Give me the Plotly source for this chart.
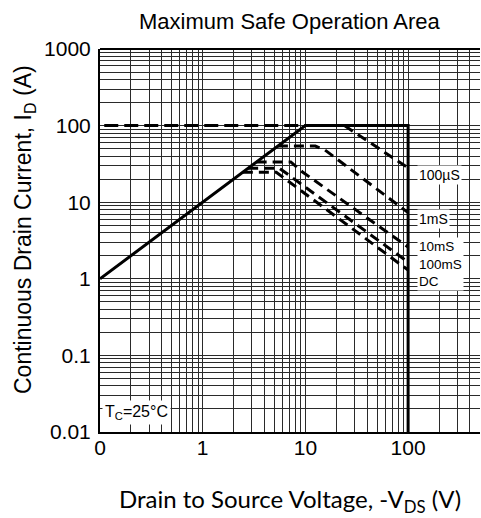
import plotly.graph_objects as go

# ---- data ----
limit_v = [0.1, 10, 100, 100]
limit_i = [1, 100, 100, 0.01]

idmax_v = [0.11, 10]
idmax_i = [100, 100]

us100_v = [24, 100]
us100_i = [100, 28]

ms1_v = [5.4, 12.5, 15.5, 100]
ms1_i = [54, 54, 48, 7.3]

ms10_v = [3.35, 7.2, 9.3, 100]
ms10_i = [33.5, 33.5, 25, 2.6]

ms100_v = [2.77, 5.6, 100]
ms100_i = [27.7, 27.7, 1.65]

dc_v = [2.46, 5.2, 100]
dc_i = [24.6, 24.6, 1.3]

upper_labels = ["100µS", "1mS"]
upper_label_y_px = [175, 219]
lower_labels = ["10mS", "100mS", "DC"]

x_tick_vals = [0.1, 1, 10, 100]
x_tick_text = ["0", "1", "10", "100"]
y_tick_vals = [0.01, 0.1, 1, 10, 100, 1000]
y_tick_text = ["0.01", "0.1", "1", "10", "100", "1000"]


def grid_vals(lo_exp, hi_exp, extra_max=None):
    vals = []
    for e in range(lo_exp, hi_exp + 1):
        for d in range(1, 10):
            v = d * 10 ** e
            if extra_max is not None and v > extra_max:
                continue
            vals.append(v)
    return vals


FONT = "Arial"
GRID = "#2a2a2a"

fig = go.Figure()

dash_style = "10px,6px"
for xs, ys, dash in [
    (idmax_v, idmax_i, "14px,6px"),
    (us100_v, us100_i, dash_style),
    (ms1_v, ms1_i, dash_style),
    (ms10_v, ms10_i, dash_style),
    (ms100_v, ms100_i, dash_style),
    (dc_v, dc_i, dash_style),
]:
    fig.add_trace(go.Scatter(x=xs, y=ys, mode="lines",
                             line=dict(color="black", width=3, dash=dash),
                             showlegend=False, hoverinfo="skip"))

fig.add_trace(go.Scatter(x=limit_v, y=limit_i, mode="lines",
                         line=dict(color="black", width=3),
                         showlegend=False, hoverinfo="skip"))

L, R, T, B = 100, 1, 49, 86
W, H = 481, 518
PW = W - L - R
PH = H - T - B


def px_x(px):
    return (px - L) / PW


def px_y(py):
    return (H - B - py) / PH


xg = grid_vals(-1, 2, extra_max=500)
yg = grid_vals(-2, 3, extra_max=1000)

fig.update_xaxes(
    type="log", range=[-1, 2.7], automargin=False,
    tickvals=xg,
    ticktext=[x_tick_text[x_tick_vals.index(v)] if v in x_tick_vals else "" for v in xg],
    showgrid=True, gridcolor=GRID, gridwidth=1,
    showline=True, linecolor="black", linewidth=2, mirror=False,
    ticks="", ticklabelstandoff=-4,
    tickfont=dict(family=FONT, size=21, color="black"),
    zeroline=False,
)
fig.update_yaxes(
    type="log", range=[-2, 3], automargin=False,
    tickvals=yg,
    ticktext=[y_tick_text[y_tick_vals.index(v)] if v in y_tick_vals else "" for v in yg],
    showgrid=True, gridcolor=GRID, gridwidth=1,
    showline=True, linecolor="black", linewidth=2, mirror=False,
    ticks="", ticklabelstandoff=3,
    tickfont=dict(family=FONT, size=21, color="black"),
    zeroline=False,
)

annotations = []
for txt, py in zip(upper_labels, upper_label_y_px):
    annotations.append(dict(
        text=txt, xref="paper", yref="paper", x=px_x(417), y=px_y(py),
        xanchor="left", yanchor="middle", showarrow=False,
        font=dict(family=FONT, size=14, color="black"),
        bgcolor="white", borderpad=1,
    ))

annotations.append(dict(
    text="<br>".join(lower_labels), xref="paper", yref="paper",
    x=px_x(417), y=px_y(264), xanchor="left", yanchor="middle", align="left",
    showarrow=False, font=dict(family=FONT, size=13.5, color="black"),
    bgcolor="white", borderpad=1,
))

annotations.append(dict(
    text="T<sub>C</sub>=25°C", xref="paper", yref="paper",
    x=px_x(102), y=px_y(412), xanchor="left", yanchor="middle",
    showarrow=False, font=dict(family=FONT, size=16, color="black"),
    bgcolor="white", borderpad=2,
))

annotations.append(dict(
    text="Continuous Drain Current, I<sub>D</sub> (A)", xref="paper", yref="paper",
    x=px_x(24), y=px_y(230), xanchor="center", yanchor="middle", textangle=-90,
    showarrow=False, font=dict(family=FONT, size=23, color="black"),
))

annotations.append(dict(
    text="Drain to Source Voltage, -V<sub>DS</sub> (V)", xref="paper", yref="paper",
    x=px_x(290), y=px_y(500), xanchor="center", yanchor="middle",
    showarrow=False, font=dict(family="Lato", size=24, color="black"),
))

annotations.append(dict(
    text="Maximum Safe Operation Area", xref="paper", yref="paper",
    x=px_x(290), y=px_y(21), xanchor="center", yanchor="middle",
    showarrow=False, font=dict(family=FONT, size=22, color="black"),
))

shapes = [dict(type="line", xref="paper", yref="paper", x0=0, x1=1, y0=1, y1=1,
               line=dict(color="black", width=2))]

fig.update_layout(
    width=W, height=H,
    margin=dict(l=L, r=R, t=T, b=B, autoexpand=False),
    paper_bgcolor="white", plot_bgcolor="white",
    annotations=annotations, shapes=shapes,
    showlegend=False,
)

fig.write_html("out.html",
               config={"displayModeBar": False},
               post_script="document.body.style.margin='0';document.body.style.padding='0';")
